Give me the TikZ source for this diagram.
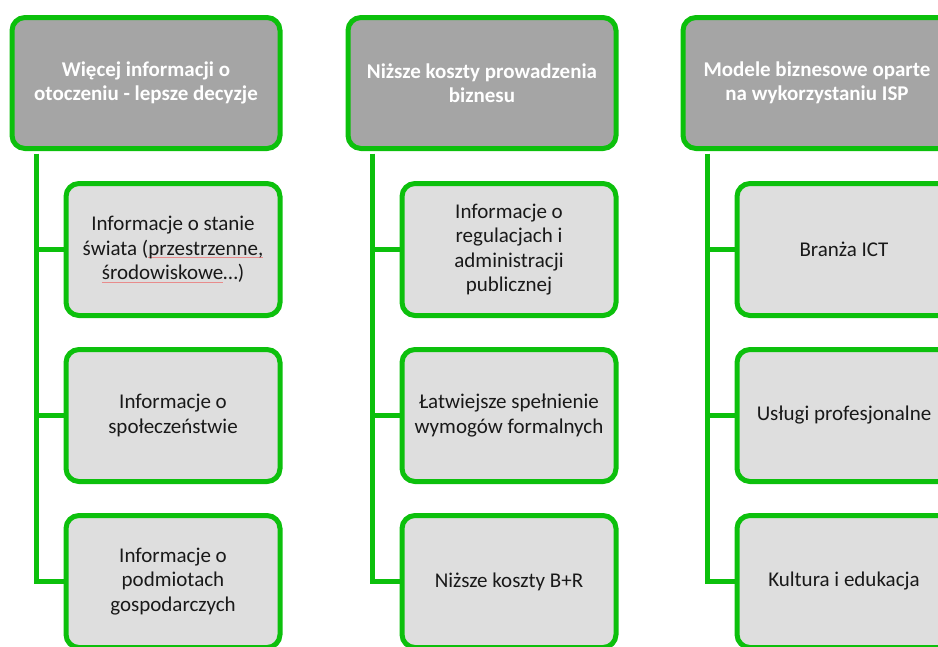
\documentclass[tikz,border=0pt]{standalone}
\usepackage{fontspec}
\setmainfont{Carlito}
\definecolor{grn}{RGB}{12,192,12}
\definecolor{hdrfill}{RGB}{165,165,165}
\definecolor{boxfill}{RGB}{222,222,222}
\definecolor{txt}{RGB}{25,25,25}
\definecolor{ulred}{RGB}{232,140,140}
\newcommand\spellul[1]{\setbox0\hbox{#1}\rlap{\color{ulred}\rule[-2.8pt]{\wd0}{0.9pt}}\box0}
\begin{document}
\begin{tikzpicture}[x=1pt,y=-1pt,
  hdr/.style={draw=grn,line width=5pt,fill=hdrfill,rounded corners=13pt,
    minimum width=268pt,minimum height=131pt,align=center,text=white,
    font=\fontsize{21}{24.5}\selectfont\bfseries,inner sep=0pt},
  itm/.style={draw=grn,line width=5pt,fill=boxfill,rounded corners=13pt,
    minimum width=214pt,minimum height=132pt,align=center,text=txt,
    font=\fontsize{21}{24.5}\selectfont,inner sep=0pt},
  conn/.style={draw=grn,line width=5pt}]
\useasboundingbox (0,0) rectangle (938,646);
\clip (0,0) rectangle (938,646);
% column 1
\node[hdr] (h1) at (146,83) {Więcej informacji o\\otoczeniu - lepsze decyzje};
\node[itm] (b11) at (173,249.5) {Informacje o stanie\\świata (\spellul{przestrzenne,}\\\spellul{środowiskowe}…)};
\node[itm] (b12) at (173,415.5) {Informacje o\\społeczeństwie};
\node[itm] (b13) at (173,581.5) {Informacje o\\podmiotach\\gospodarczych};
% column 2
\node[hdr] (h2) at (482,83) {Niższe koszty prowadzenia\\biznesu};
\node[itm] (b21) at (509,249.5) {Informacje o\\regulacjach i\\administracji\\publicznej};
\node[itm] (b22) at (509,415.5) {Łatwiejsze spełnienie\\wymogów formalnych};
\node[itm] (b23) at (509,581.5) {Niższe koszty B+R};
% column 3
\node[hdr] (h3) at (817,83) {Modele biznesowe oparte\\na wykorzystaniu ISP};
\node[itm] (b31) at (844,249.5) {Branża ICT};
\node[itm] (b32) at (844,415.5) {Usługi profesjonalne};
\node[itm] (b33) at (844,581.5) {Kultura i edukacja};
% connectors
\foreach \c in {1,2,3}{
  \coordinate (s\c) at ([xshift=27pt,yshift=-2.5pt]h\c.south west);
  \draw[conn] (s\c) |- (b\c3.west);
  \draw[conn] (b\c1.west) -- (b\c1.west -| s\c);
  \draw[conn] (b\c2.west) -- (b\c2.west -| s\c);
}
\end{tikzpicture}
\end{document}
